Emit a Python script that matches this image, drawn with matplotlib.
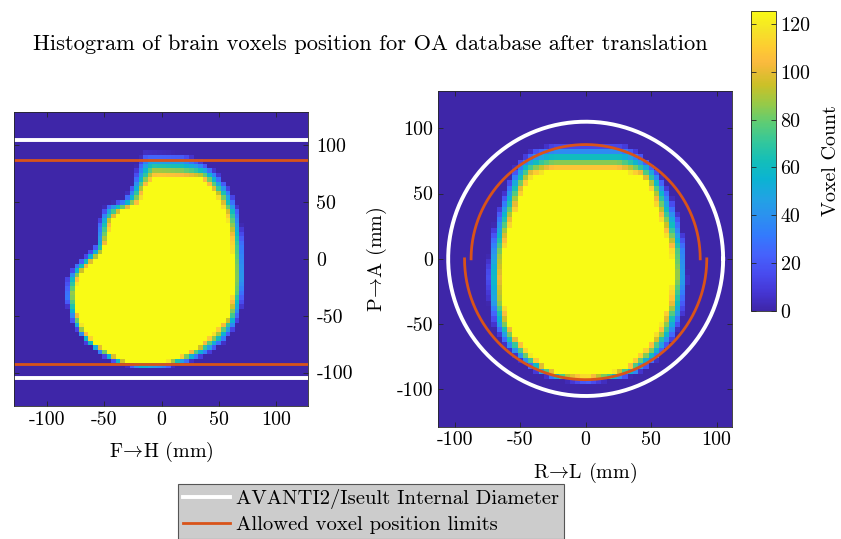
import numpy as np
import matplotlib
matplotlib.use("Agg")
import matplotlib.pyplot as plt
from matplotlib.colors import LinearSegmentedColormap
from matplotlib.path import Path
from matplotlib.lines import Line2D

plt.rcParams["font.family"] = ["cmr10", "DejaVu Serif"]
plt.rcParams["mathtext.fontset"] = "cm"
plt.rcParams["axes.unicode_minus"] = False
plt.rcParams["axes.formatter.use_mathtext"] = False

# ---- parula colour map -------------------------------------------------
parula_idx = np.array([0, 16, 32, 48, 64, 80, 96, 112, 128, 144, 160, 176, 192, 208, 212, 224, 240, 255])
parula_rgb = [
    (0.2422, 0.1504, 0.6603), (0.2704, 0.2138, 0.8346), (0.2813, 0.2985, 0.9397),
    (0.2710, 0.3860, 0.9898), (0.2006, 0.4803, 0.9906), (0.1716, 0.5655, 0.9393),
    (0.1288, 0.6408, 0.8910), (0.0433, 0.7039, 0.8242), (0.0770, 0.7468, 0.7224),
    (0.2061, 0.7808, 0.6065), (0.3671, 0.8021, 0.4563), (0.5886, 0.7913, 0.2833),
    (0.7945, 0.7554, 0.1570), (0.9523, 0.7284, 0.2237), (0.9842, 0.7330, 0.2446),
    (0.9938, 0.7974, 0.1974), (0.9601, 0.8963, 0.1507), (0.9769, 0.9839, 0.0805),
]
parula = LinearSegmentedColormap.from_list("parula", list(zip(parula_idx / 255.0, parula_rgb)))

# ---- data --------------------------------------------------------------
bin_mm = 4
count_max = 125.5
edge_count = 120
core_count = 250

# sagittal projection (F->H horizontal, P->A vertical): saturated core and outer fringe
sag_inner_x = [-5.8, -14.6, -19, -35, -43.7, -48, -52.4, -64, -72.8, -75.7, -74, -68.4, -58, -43.7,
               -32, -17.5, 3, 17.5, 32, 46.6, 58, 62.6, 62.6, 61, 56.8, 49.5, 40.8, 35]
sag_inner_y = [72, 63, 49.7, 42, 33, 15.5, 3.6, -5.4, -17.3, -29, -47, -62, -74, -84,
               -90, -91.7, -91, -85.7, -76.8, -65, -50, -29, -5.4, 18.5, 39.3, 54, 64.6, 70.5]
sag_outer_x = [-16, 20, 35, 49.5, 61, 68.4, 72.8, 74, 71, 65.5, 55, 40.8, 23, 5.8, -17.5, -37.8,
               -52, -67, -78.6, -84.4, -83, -77, -65.5, -58, -56.8, -49.5, -33.5, -26, -21.8]
sag_outer_y = [95, 94, 87, 76.5, 60, 42, 12.5, -17, -41, -59, -74, -84, -91.7, -95, -96, -93,
               -85.7, -74, -56, -35, -17.3, -5.4, 3.6, 12.5, 30, 48, 52.7, 66, 84]

# axial projection (R->L horizontal, P->A vertical)
ax_inner_x = [-24.7, -40, -47.7, -52.8, -59, -63, -64.2, -63, -59, -52.8, -42.6, -29.8, -14.5, 0.8,
              18.6, 33.9, 46.6, 56.8, 64.5, 67, 65.7, 60.7, 54.3, 49.2, 41.5, 23.7]
ax_inner_y = [68, 64, 54, 38.7, 21, 3, -14.8, -32.6, -48, -60.7, -73.4, -83.6, -88.7, -90,
              -87.4, -81, -68.3, -53, -32.6, -12.2, 5.6, 21, 38.7, 54, 64, 68]
ax_outer_x = [-24.7, -40, -52.8, -60.4, -68, -73, -75.7, -74.4, -70.6, -63, -50.2, -35, -19.6, 0.8,
              21, 39, 54.3, 67, 74.7, 78.5, 77.2, 72, 64.5, 54.3, 41.5, 28.8]
ax_outer_y = [88.4, 84.6, 74.4, 56.6, 36, 13, -12.2, -32.6, -50.5, -65.7, -78.5, -88.7, -93.8, -95,
              -93.8, -88.7, -78.5, -63.2, -42.8, -17.3, 8.2, 31, 51.5, 69.3, 82, 88.4]

scanner_radius = 105
upper_limit = 87.5
lower_limit = 92.5

# ---- histogram grids ---------------------------------------------------
def poly_distance(px, py, xs, ys):
    ax_ = np.asarray(xs, float)
    ay_ = np.asarray(ys, float)
    bx_ = np.roll(ax_, -1)
    by_ = np.roll(ay_, -1)
    dx, dy = bx_ - ax_, by_ - ay_
    P = px[:, None]
    Q = py[:, None]
    t = ((P - ax_) * dx + (Q - ay_) * dy) / (dx * dx + dy * dy)
    t = np.clip(t, 0, 1)
    cx, cy = ax_ + t * dx, ay_ + t * dy
    return np.sqrt((P - cx) ** 2 + (Q - cy) ** 2).min(axis=1)


def counts_from_outlines(xe, ye, inner, outer):
    xc = 0.5 * (xe[:-1] + xe[1:])
    yc = 0.5 * (ye[:-1] + ye[1:])
    X, Y = np.meshgrid(xc, yc)
    pts = np.column_stack([X.ravel(), Y.ravel()])
    in_inner = Path(np.column_stack(inner)).contains_points(pts)
    in_outer = Path(np.column_stack(outer)).contains_points(pts)
    d_in = poly_distance(pts[:, 0], pts[:, 1], *inner)
    d_out = poly_distance(pts[:, 0], pts[:, 1], *outer)
    frac = d_out / (d_in + d_out + 1e-9)
    val = np.where(in_inner, core_count, np.where(in_outer, edge_count * frac, 0.0))
    return val.reshape(X.shape)


edges = np.arange(-132, 133, bin_mm)
sag_counts = counts_from_outlines(edges, edges, (sag_inner_x, sag_inner_y), (sag_outer_x, sag_outer_y))
ax_counts = counts_from_outlines(edges, edges, (ax_inner_x, ax_inner_y), (ax_outer_x, ax_outer_y))

# ---- figure ------------------------------------------------------------
W, H = 841, 539
fig = plt.figure(figsize=(W / 100, H / 100), dpi=100)

def fbox(x0, y0, x1, y1):
    return [x0 / W, 1 - y1 / H, (x1 - x0) / W, (y1 - y0) / H]

orange = "#D95319"
spine_c = "#262626"
tick_fs = 14.4
label_fs = 14.4

ax1 = fig.add_axes(fbox(14, 112, 308, 406))
ax2 = fig.add_axes(fbox(437.7, 91, 732.3, 426.7))
cax = fig.add_axes(fbox(751.3, 10.7, 775.7, 311))

for ax, cnt in ((ax1, sag_counts), (ax2, ax_counts)):
    mesh = ax.pcolormesh(edges, edges, cnt, cmap=parula, vmin=0, vmax=count_max,
                         shading="flat", rasterized=True)
    ax.set_facecolor(parula(0.0))
    ax.tick_params(direction="in", length=3.5, width=0.6, color=spine_c,
                   labelsize=tick_fs, top=True, right=True, left=True, bottom=True)
    for s in ax.spines.values():
        s.set_color(spine_c)
        s.set_linewidth(0.6)
    ax.set_xticks([-100, -50, 0, 50, 100])
    ax.set_yticks([-100, -50, 0, 50, 100])

arrow = r"$\!{\rightarrow}\!$"

# sagittal panel
ax1.axhline(scanner_radius, color="white", lw=2.8)
ax1.axhline(-scanner_radius, color="white", lw=2.8)
ax1.axhline(upper_limit, color=orange, lw=2.0)
ax1.axhline(-lower_limit, color=orange, lw=2.0)
ax1.set_xlim(-129, 128)
ax1.set_ylim(-129.5, 129.5)
ax1.yaxis.tick_right()
ax1.tick_params(left=True, right=True, labelleft=False, labelright=True)
ax1.tick_params(axis="y", pad=6)
ax1.set_xlabel("F" + arrow + "H (mm)", fontsize=label_fs, labelpad=8)

# axial panel
th = np.linspace(0, 2 * np.pi, 400)
ax2.plot(scanner_radius * np.cos(th), scanner_radius * np.sin(th), color="white", lw=2.8)
th_up = np.linspace(0, np.pi, 200)
ax2.plot(upper_limit * np.cos(th_up), upper_limit * np.sin(th_up), color=orange, lw=2.0)
th_lo = np.linspace(np.pi, 2 * np.pi, 200)
ax2.plot(lower_limit * np.cos(th_lo), lower_limit * np.sin(th_lo), color=orange, lw=2.0)
ax2.set_xlim(-113, 112)
ax2.set_ylim(-128.5, 128.5)
ax2.set_xlabel("R" + arrow + "L (mm)", fontsize=label_fs, labelpad=8)
ax2.set_ylabel("P" + arrow + "A (mm)", fontsize=label_fs, labelpad=5)

# colour bar
cb = fig.colorbar(mesh, cax=cax)
cb.set_ticks([0, 20, 40, 60, 80, 100, 120])
cb.outline.set_edgecolor(spine_c)
cb.outline.set_linewidth(0.6)
cax.tick_params(direction="in", length=3.5, width=0.6, color=spine_c, labelsize=tick_fs,
                left=True, right=True)
cb.set_label("Voxel Count", fontsize=label_fs, labelpad=8)

fig.text(370 / W, 1 - 44 / H, "Histogram of brain voxels position for OA database after translation",
         ha="center", va="center", fontsize=16.2)

handles = [Line2D([], [], color="white", lw=2.8), Line2D([], [], color=orange, lw=2.0)]
leg = fig.legend(handles, ["AVANTI2/Iseult Internal Diameter", "Allowed voxel position limits"],
                 loc="upper left", bbox_to_anchor=(178 / W, 1 - 484 / H), borderaxespad=0,
                 fancybox=False, framealpha=1, fontsize=14.8, handlelength=2.3,
                 handletextpad=0.25, borderpad=0.25, labelspacing=0.3)
leg.get_frame().set_facecolor("#cccccc")
leg.get_frame().set_edgecolor("#555555")
leg.get_frame().set_linewidth(0.8)

fig.savefig("out.png", dpi=100)
